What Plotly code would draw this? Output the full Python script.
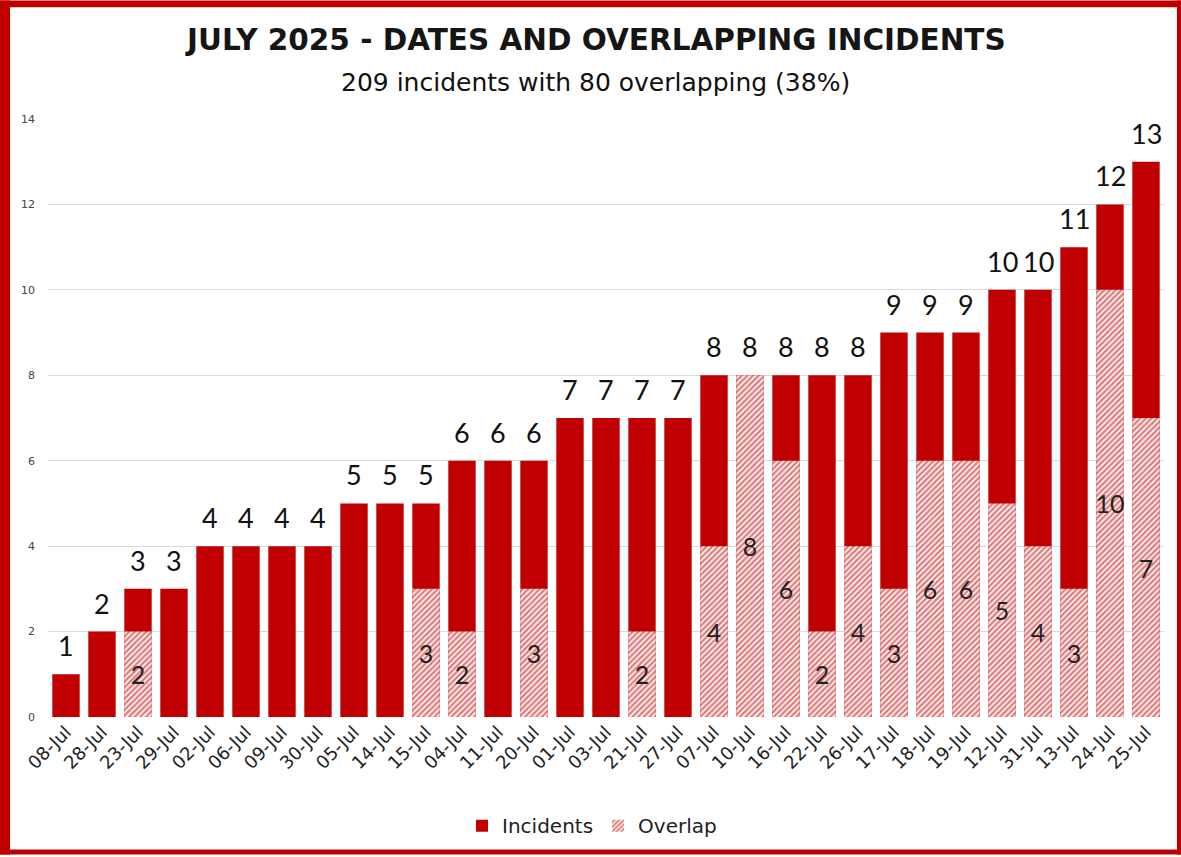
import plotly.graph_objects as go

dates = ["08-Jul","28-Jul","23-Jul","29-Jul","02-Jul","06-Jul","09-Jul","30-Jul","05-Jul","14-Jul",
         "15-Jul","04-Jul","11-Jul","20-Jul","01-Jul","03-Jul","21-Jul","27-Jul","07-Jul","10-Jul",
         "16-Jul","22-Jul","26-Jul","17-Jul","18-Jul","19-Jul","12-Jul","31-Jul","13-Jul","24-Jul","25-Jul"]
incidents = [1,2,3,3,4,4,4,4,5,5,5,6,6,6,7,7,7,7,8,8,8,8,8,9,9,9,10,10,11,12,13]
overlap = [0,0,2,0,0,0,0,0,0,0,3,2,0,3,0,0,2,0,4,8,6,2,4,3,6,6,5,4,3,10,7]

title = "JULY 2025 - DATES AND OVERLAPPING INCIDENTS"
subtitle = "209 incidents with 80 overlapping (38%)"

RED = "#C00000"
NUMFONT = "Lato"
TXTFONT = "DejaVu Sans"
W, H = 1181, 857
L, R, T, B = 48, 17, 119, 138
PW, PH = W - L - R, H - T - B

def px_x(px):
    return (px - L) / PW

def px_y(py):
    return (H - B - py) / PH

fig = go.Figure()
fig.add_trace(go.Bar(
    x=dates, y=incidents, name="Incidents",
    marker=dict(color=RED, line=dict(width=0)),
))
fig.add_trace(go.Bar(
    x=dates, y=overlap, name="Overlap",
    marker=dict(color="white", line=dict(width=0),
                pattern=dict(shape="/", fgcolor=RED, bgcolor="#fffafa", size=4, solidity=0.58)),
    text=[str(v) if v else "" for v in overlap],
    textposition="inside", insidetextanchor="middle", constraintext="none",
    textangle=0,
    textfont=dict(family=NUMFONT, size=25, color="#222222"),
))

for d, v in zip(dates, incidents):
    fig.add_annotation(x=d, y=v, text=str(v), showarrow=False, yanchor="bottom", yshift=10,
                       font=dict(family=NUMFONT, size=27, color="#111111"))

fig.add_annotation(xref="paper", yref="paper", x=px_x(595), y=px_y(40), text=title, showarrow=False,
                   xanchor="center", yanchor="middle",
                   font=dict(family=TXTFONT, size=29.5, color="#151515", weight="bold"))
fig.add_annotation(xref="paper", yref="paper", x=px_x(595), y=px_y(82), text=subtitle, showarrow=False,
                   xanchor="center", yanchor="middle",
                   font=dict(family=TXTFONT, size=25, color="#111111"))

# red frame
frame = [(0, 0, W, 7), (0, 0, 10, H), (W - 4, 0, W, H), (0, H - 5, W, H)]
for x0, y0, x1, y1 in frame:
    fig.add_shape(type="rect", xref="paper", yref="paper",
                  x0=px_x(x0), x1=px_x(x1), y0=px_y(y1), y1=px_y(y0),
                  fillcolor=RED, line=dict(width=0), layer="above")

fig.update_layout(
    width=W, height=H,
    margin=dict(l=L, r=R, t=T, b=B),
    barmode="overlay", bargap=0.24,
    paper_bgcolor="white", plot_bgcolor="white",
    font=dict(family=TXTFONT, color="#111111"),
    showlegend=True,
    legend=dict(orientation="h", x=px_x(592), xanchor="center", y=px_y(828), yanchor="middle",
                font=dict(family=TXTFONT, size=20, color="#222222"), traceorder="normal",
                itemwidth=30),
    xaxis=dict(tickangle=-45, tickfont=dict(family=TXTFONT, size=18, color="#222222"),
               showgrid=False, showline=False, ticks=""),
    yaxis=dict(range=[0, 14], dtick=2, showgrid=True, gridcolor="#d9d9d9", gridwidth=1,
               zeroline=False, showline=False, ticks="",
               tickfont=dict(family=TXTFONT, size=11, color="#444444"), ticklabelstandoff=12),
)

fig.write_html("out.html")
